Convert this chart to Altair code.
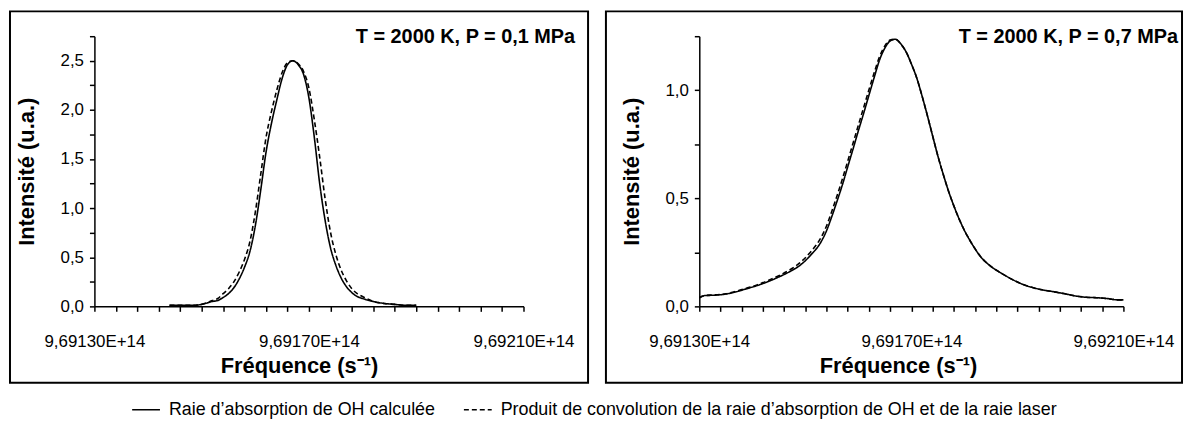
import altair as alt
import pandas as pd

# Frequency origin and unit (s^-1)
F0 = 969130000000000
GHZ = 1000000000

SERIES = [
    "Raie d\u2019absorption de OH calcul\u00e9e",
    "Produit de convolution de la raie d\u2019absorption de OH et de la raie laser",
]

# ---- Left panel: T = 2000 K, P = 0,1 MPa (offsets in GHz from F0)
left_offsets = [14, 16, 18, 20, 22, 23, 24, 25, 26, 27, 28, 29, 30, 31, 32, 33, 34, 35, 36, 37,
                38, 39, 40, 41, 42, 43, 44, 45, 46, 47, 48, 49, 50, 52, 54, 56, 58, 60]
left_calc = [0.01, 0.01, 0.01, 0.02, 0.05, 0.06, 0.09, 0.13, 0.19, 0.28, 0.40, 0.56, 0.82, 1.18,
             1.57, 1.86, 2.10, 2.32, 2.46, 2.50, 2.46, 2.36, 2.12, 1.72, 1.25, 0.88, 0.60, 0.42,
             0.29, 0.20, 0.14, 0.10, 0.08, 0.05, 0.03, 0.02, 0.01, 0.01]
left_conv = [0.01, 0.01, 0.01, 0.02, 0.06, 0.08, 0.13, 0.18, 0.25, 0.35, 0.48, 0.66, 0.96, 1.34,
             1.72, 1.98, 2.20, 2.38, 2.48, 2.50, 2.47, 2.39, 2.22, 1.90, 1.52, 1.10, 0.76, 0.53,
             0.37, 0.26, 0.18, 0.13, 0.10, 0.05, 0.03, 0.02, 0.01, 0.01]

# ---- Right panel: T = 2000 K, P = 0,7 MPa
right_offsets = [0, 1, 3, 5, 7, 9, 11, 13, 15, 17, 19, 21, 23, 24, 25, 26, 27, 28, 29, 30, 31,
                 32, 33, 34, 35, 36, 37, 38, 39, 40, 41, 42, 43, 44, 45, 46, 47, 48, 49, 50, 51,
                 52, 53, 55, 57, 59, 61, 63, 65, 67, 69, 71, 73, 75, 77, 79, 80]
right_calc = [0.040, 0.050, 0.052, 0.057, 0.068, 0.082, 0.097, 0.115, 0.136, 0.160, 0.190, 0.237,
              0.300, 0.350, 0.416, 0.488, 0.563, 0.646, 0.728, 0.812, 0.893, 0.977, 1.060, 1.140,
              1.195, 1.228, 1.236, 1.215, 1.178, 1.122, 1.058, 0.975, 0.885, 0.790, 0.696, 0.612,
              0.534, 0.466, 0.405, 0.352, 0.307, 0.267, 0.232, 0.185, 0.153, 0.125, 0.102, 0.086,
              0.075, 0.067, 0.058, 0.048, 0.042, 0.040, 0.036, 0.030, 0.030]
right_conv = [0.040, 0.050, 0.053, 0.058, 0.070, 0.085, 0.100, 0.120, 0.142, 0.168, 0.202, 0.252,
              0.320, 0.372, 0.440, 0.513, 0.590, 0.672, 0.755, 0.838, 0.920, 1.002, 1.082, 1.155,
              1.205, 1.232, 1.236, 1.214, 1.178, 1.122, 1.058, 0.975, 0.885, 0.790, 0.696, 0.612,
              0.534, 0.466, 0.405, 0.352, 0.307, 0.267, 0.232, 0.185, 0.153, 0.125, 0.102, 0.086,
              0.075, 0.067, 0.058, 0.048, 0.042, 0.040, 0.036, 0.030, 0.030]

x_ticks = [F0 + k * 4 * GHZ for k in range(21)]
left_yticks = [0, 0.25, 0.5, 0.75, 1.0, 1.25, 1.5, 1.75, 2.0, 2.25, 2.5, 2.75]
right_yticks = [0, 0.25, 0.5, 0.75, 1.0, 1.25]

FONT = "Liberation Sans"
X_LABEL = ("(datum.value - 969130000000000) % 40000000000 === 0 ? "
           "replace(upper(format(datum.value, '.5e')), '.', ',') : ''")
Y_LABEL = "(datum.value * 4) % 2 === 0 ? replace(format(datum.value, '.1f'), '.', ',') : ''"

H = 272


def panel(offsets, calc, conv, ymax, yticks, title, W, box, title_pos, xtitle_x):
    freq = [F0 + o * GHZ for o in offsets]
    df = pd.DataFrame({
        "freq": freq + freq,
        "val": calc + conv,
        "series": [SERIES[0]] * len(offsets) + [SERIES[1]] * len(offsets),
    })
    x = alt.X("freq:Q",
              scale=alt.Scale(domain=[F0, F0 + 80 * GHZ], nice=False, zero=False),
              axis=alt.Axis(values=x_ticks, labelExpr=X_LABEL, labelFlush=False,
                            labelOverlap=False, title="Fr\u00e9quence (s\u207b\u00b9)",
                            titleX=xtitle_x, titleY=50,
                            labelPadding=22, tickSize=5, grid=False))
    y = alt.Y("val:Q",
              scale=alt.Scale(domain=[0, ymax], nice=False),
              axis=alt.Axis(values=yticks, labelExpr=Y_LABEL, labelOverlap=False,
                            title="Intensit\u00e9 (u.a.)", titleX=-56,
                            labelPadding=6, tickSize=5, grid=False))
    lines = alt.Chart(df).mark_line(color="black", strokeWidth=1.6, interpolate="monotone").encode(
        x=x, y=y,
        strokeDash=alt.StrokeDash(
            "series:N",
            scale=alt.Scale(domain=SERIES, range=[[1, 0], [5, 3]]),
            legend=alt.Legend(title=None, orient="none", direction="horizontal",
                              legendX=37, legendY=361, symbolType="stroke",
                              symbolStrokeColor="black", symbolStrokeWidth=1.5,
                              symbolSize=784, labelFontSize=18, labelFont=FONT,
                              labelOffset=8, labelColor="black", columnPadding=25,
                              labelLimit=900),
        ),
        order=alt.Order("freq:Q"),
    )
    border = alt.Chart(pd.DataFrame({"b": [0]})).mark_rect(
        fill="transparent", stroke="black", strokeWidth=2
    ).encode(x=alt.value(box[0]), x2=alt.value(box[1]), y=alt.value(box[2]), y2=alt.value(box[3]))
    head = alt.Chart(pd.DataFrame({"t": [title]})).mark_text(
        font=FONT, fontSize=20, fontWeight="bold", align="right", baseline="middle", color="black"
    ).encode(text="t:N", x=alt.value(title_pos[0]), y=alt.value(title_pos[1]))
    return alt.layer(border, lines, head).properties(width=W, height=H)


left = panel(left_offsets, left_calc, left_conv, 2.75, left_yticks,
             "T = 2000 K, P = 0,1 MPa", 432, (-85, 497, -25, 349), (484, 1), 206)
right = panel(right_offsets, right_calc, right_conv, 1.25, right_yticks,
              "T = 2000 K, P = 0,7 MPa", 427, (-94, 486, -25, 349), (482, 1), 200)

chart = alt.hconcat(left, right, spacing=14).properties(padding=0).configure(
    font=FONT
).configure_view(
    stroke="transparent"
).configure_axis(
    labelFont=FONT, labelFontSize=17, labelColor="black",
    titleFont=FONT, titleFontSize=22, titleFontWeight="bold", titleColor="black",
    domainColor="black", domainWidth=1.5, tickColor="black", tickWidth=1.5,
)

chart.save("out.html", embed_options={"renderer": "svg", "actions": False})
